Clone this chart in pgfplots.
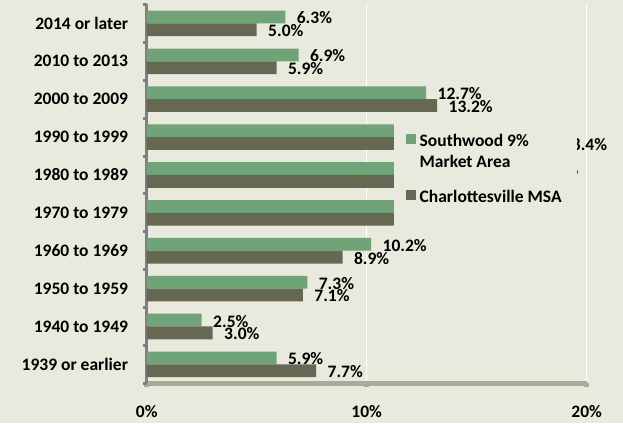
\documentclass[border=0pt]{standalone}
\usepackage{fontspec}
\setmainfont{Carlito}
\usepackage{pgfplots}
\pgfplotsset{compat=1.18}
\definecolor{bg}{HTML}{EAE9DE}
\definecolor{sgreen}{HTML}{70A377}
\definecolor{cdark}{HTML}{666854}
\definecolor{yaxis}{HTML}{7F7F7F}
\definecolor{xaxis}{HTML}{A8AB98}
\newcommand{\lbl}{\fontsize{17.5}{21}\selectfont\bfseries}
\pgfplotstableread{
y south char
0 5.9 7.7
1 2.5 3.0
2 7.3 7.1
3 10.2 8.9
4 14.6 14.6
5 17.1 16.2
6 16.5 18.4
7 12.7 13.2
8 6.9 5.9
9 6.3 5.0
}\datatable
\begin{document}
\begin{tikzpicture}
\path[use as bounding box, fill=bg] (0,0) rectangle (623pt,423pt);
\begin{axis}[
  at={(146.7pt,39.7pt)}, anchor=south west,
  scale only axis, width=440pt, height=378.8pt,
  xbar, bar width=12.8pt,
  xmin=0, xmax=20, ymin=-0.5, ymax=9.5,
  clip=false,
  axis x line*=bottom, axis y line*=left,
  x axis line style={draw=xaxis, line width=5pt},
  y axis line style={draw=yaxis, line width=3pt},
  xtick={0,10,20}, xticklabels={0\%,10\%,20\%},
  ytick={0,...,9},
  yticklabels={1939 or earlier,1940 to 1949,1950 to 1959,1960 to 1969,1970 to 1979,1980 to 1989,1990 to 1999,2000 to 2009,2010 to 2013,2014 or later},
  minor ytick={-0.5,0.5,...,9.5},
  tick align=outside,
  major tick length=4pt, minor tick length=4pt,
  every major y tick/.append style={draw=none},
  every minor y tick/.append style={draw=yaxis, line width=3pt},
  every major x tick/.append style={draw=xaxis, line width=5pt},
  xmajorgrids, major grid style={white, line width=1.2pt},
  yticklabel style={font=\lbl, anchor=east, inner sep=0pt, xshift=-14.5pt},
  xticklabel style={font=\lbl, inner sep=0pt, yshift=-18pt},
  /pgf/number format/assume math mode=true,
  nodes near coords={\pgfmathprintnumber[fixed,fixed zerofill,precision=1,assume math mode=true]{\pgfplotspointmeta}\%},
  every node near coord/.append style={font=\lbl, text=black, anchor=west, xshift=8pt, yshift=-1pt},
  point meta=x,
  legend cell align=left,
  legend style={at={(0.562,0.7056)}, anchor=north west, fill=bg, draw=none,
    inner xsep=11.5pt, inner ysep=15pt, font=\lbl,
    nodes={inner xsep=4pt, inner ysep=0pt, text height=, text depth=, anchor=base west}, row sep=0pt},
  mylegend/.style={legend image code/.code={\fill[##1] (0pt,2.3pt) rectangle (10pt,12.3pt);}},
]
\addplot[fill=sgreen, draw=none, bar shift=6.4pt, mylegend] table[x=south, y=y] {\datatable};
\addlegendentry{\rule[-6pt]{0pt}{21pt}Southwood 9\%}
\addlegendimage{empty legend}
\addlegendentry{\rule[-6pt]{0pt}{21pt}Market Area}
\addplot[fill=cdark, draw=none, bar shift=-6.4pt, mylegend] table[x=char, y=y] {\datatable};
\addlegendentry{\rule[-11pt]{0pt}{40.3pt}Charlottesville MSA}
\end{axis}
\end{tikzpicture}
\end{document}
